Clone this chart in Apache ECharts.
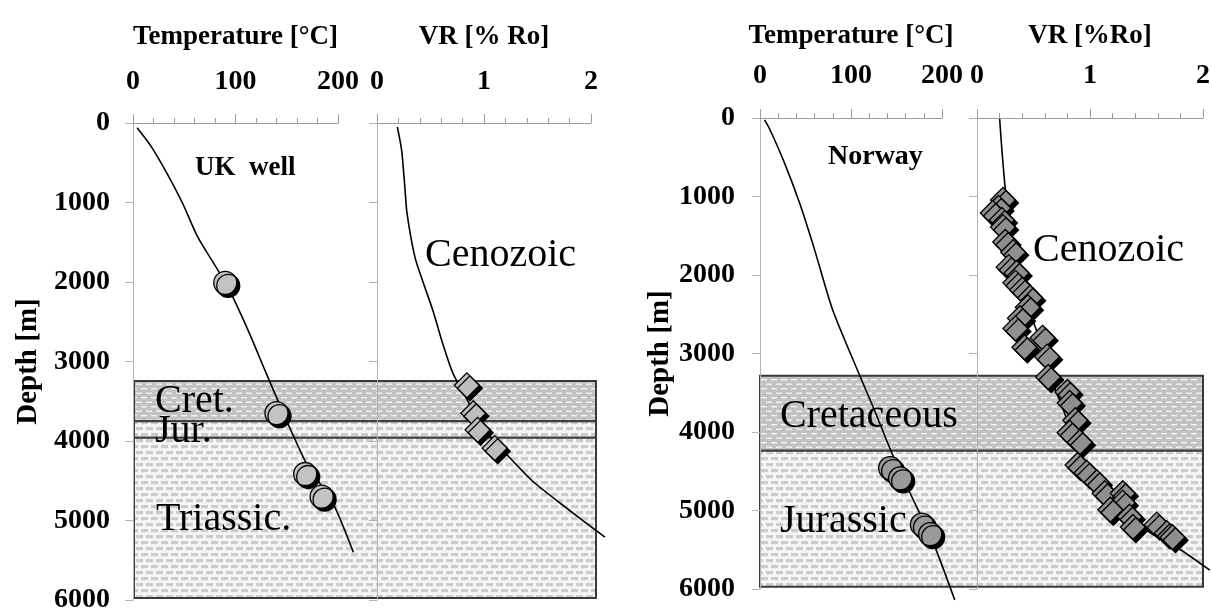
<!DOCTYPE html>
<html>
<head>
<meta charset="utf-8">
<script src="https://cdn.jsdelivr.net/npm/echarts@6/dist/echarts.min.js"></script>
<style>
  html, body { margin: 0; padding: 0; background: #fff; }
  #chart { width: 1211px; height: 616px; }
</style>
</head>
<body>
<div id="chart"></div>
<script>
// ---- well data: [value, depth in m] ----
const ukTempCurve = [[4,60],[18,300],[33,630],[48,1000],[63,1430],[78,1750],[92,2050],[112,2600],[130,3150],[145,3600],[157,3950],[170,4300],[195,4780],[215,5400]];
const ukTempObs = [[90,2010],[140,3650],[168,4415],[184,4700]];
const ukVrCurve = [[0.19,50],[0.23,340],[0.26,800],[0.28,1130],[0.355,1690],[0.43,2000],[0.52,2350],[0.62,2800],[0.71,3150],[0.83,3450],[0.93,3700],[1.08,3980],[1.24,4210],[1.45,4500],[1.71,4780],[2.13,5210]];
const ukVrObs = [[0.84,3300],[0.90,3650],[0.94,3860],[1.10,4090]];

const noTempCurve = [[5,25],[11,150],[27,575],[44,1100],[60,1680],[80,2450],[107,3210],[125,3700],[145,4270],[165,4780],[190,5400],[214,6140]];
const noTempObs = [[143,4460],[154,4590],[178,5180],[187,5300]];
const noVrCurve = [[0.2,0],[0.22,400],[0.25,900],[0.29,1400],[0.36,1900],[0.45,2400],[0.55,2800],[0.65,3300],[0.76,3700],[0.86,4100],[0.97,4500],[1.12,4800],[1.3,5050],[1.55,5300],[1.8,5500],[2.06,5760]];
const noVrObs = [[0.23,1045],[0.19,1146],[0.14,1210],[0.22,1300],[0.23,1390],[0.25,1580],[0.32,1710],[0.28,1900],[0.35,1975],[0.34,2100],[0.40,2190],[0.47,2290],[0.45,2410],[0.38,2550],[0.34,2680],[0.58,2800],[0.42,2920],[0.62,3040],[0.63,3300],[0.80,3490],[0.82,3630],[0.87,3850],[0.82,4010],[0.91,4130],[0.89,4420],[0.97,4520],[1.06,4640],[1.13,4780],[1.29,4780],[1.29,4900],[1.18,4990],[1.35,5080],[1.38,5210],[1.59,5180],[1.68,5290],[1.73,5340]];

// ---- stratigraphic units: [top, base, pattern index] (0 = shale, 1 = sandstone) ----
const ukUnits = [[3245,3750,0],[3750,3960,1],[3960,5975,1]];
const noUnits = [[3285,4240,0],[4240,5970,1]];

// ---- axis ranges [min, max, interval] ----
const tempRange = [0, 200, 100];
const vrRange = [0, 2, 1];
const depthRange = [0, 6000, 1000];
// curves run past the framed axes, so they get a wider plotting extent of the same scale
const overshoot = 1.2;

const SERIF = '"Liberation Serif", "Times New Roman", serif';

function makePattern(kind) {
  const c = document.createElement('canvas');
  const ctx = c.getContext('2d');
  if (kind === 0) {
    c.width = 10; c.height = 9;
    ctx.fillStyle = '#c2c2c2'; ctx.fillRect(0, 0, 10, 9);
    ctx.fillStyle = '#f4f4f4';
    ctx.fillRect(1, 1, 6, 1.4);
    ctx.fillRect(6, 5.5, 4, 1.4); ctx.fillRect(0, 5.5, 2, 1.4);
  } else {
    c.width = 10; c.height = 12;
    ctx.fillStyle = '#f5f5f5'; ctx.fillRect(0, 0, 10, 12);
    ctx.fillStyle = '#cbcbcb';
    ctx.fillRect(1, 1, 7, 3.2);
    ctx.fillRect(6, 7, 4, 3.2); ctx.fillRect(0, 7, 3, 3.2);
  }
  return { image: c, repeat: 'repeat' };
}
const patterns = [makePattern(0), makePattern(1)];

const axisGrey = '#9c9c9c';

// panels: [left, top, width, height]
const panels = [
  [133, 123, 205, 477],   // UK temperature
  [377, 123, 214, 477],   // UK vitrinite reflectance
  [760, 118, 182, 471],   // Norway temperature
  [977, 118, 226, 471]    // Norway vitrinite reflectance
];
const boxes = [
  [134, 123, 462, 477],
  [760, 118, 443, 471]
];
const panelRanges = [tempRange, vrRange, tempRange, vrRange];

function xAxisCfg(gridIndex, range, name, labelMargin, nameGap) {
  return {
    type: 'value', gridIndex, position: 'top',
    min: range[0], max: range[1], interval: range[2],
    name, nameLocation: 'middle', nameGap,
    nameTextStyle: { fontFamily: SERIF, fontWeight: 'bold', fontSize: 27, color: '#000' },
    axisLine: { show: true, onZero: false, lineStyle: { color: axisGrey, width: 1 } },
    axisTick: { show: true, length: 9, lineStyle: { color: axisGrey } },
    minorTick: { show: true, splitNumber: 5, length: 5, lineStyle: { color: axisGrey } },
    splitLine: { show: false }, minorSplitLine: { show: false },
    axisLabel: { show: true, margin: labelMargin, showMinLabel: true, showMaxLabel: true,
      fontFamily: SERIF, fontWeight: 'bold', fontSize: 28, color: '#000',
      formatter: v => String(v) },
    z: 5
  };
}
function yAxisCfg(gridIndex, withLabels, labelMargin, nameGap) {
  return {
    type: 'value', gridIndex, inverse: true,
    min: depthRange[0], max: depthRange[1], interval: depthRange[2],
    name: withLabels ? 'Depth [m]' : '', nameLocation: 'middle', nameGap, nameRotate: 90,
    nameTextStyle: { fontFamily: SERIF, fontWeight: 'bold', fontSize: 29, color: '#000' },
    axisLine: { show: true, onZero: false, lineStyle: { color: '#b4b4b4', width: 1 } },
    axisTick: { show: true, length: 8, lineStyle: { color: '#b4b4b4' } },
    splitLine: { show: false },
    axisLabel: { show: withLabels, margin: labelMargin, showMinLabel: true, showMaxLabel: true,
      fontFamily: SERIF, fontWeight: 'bold', fontSize: 28, color: '#000',
      formatter: v => String(v) },
    z: 5
  };
}

function gridOf(left, top, width, height) {
  return { left, top, width, height, containLabel: false, outerBoundsMode: 'none' };
}
const grids = [];
panels.forEach(p => grids.push(gridOf(p[0], p[1], p[2], p[3])));                              // 0-3 framed axes
boxes.forEach(b => grids.push(gridOf(b[0], b[1], b[2], b[3])));                                // 4-5 unit boxes
panels.forEach(p => grids.push(gridOf(p[0], p[1], p[2] * overshoot, p[3] * overshoot)));       // 6-9 data

const xAxes = [
  xAxisCfg(0, tempRange, 'Temperature [°C]', 27, 72),
  xAxisCfg(1, vrRange, 'VR [% Ro]', 27, 72),
  xAxisCfg(2, tempRange, 'Temperature [°C]', 28, 68),
  xAxisCfg(3, vrRange, 'VR [%Ro]', 28, 68),
  { type: 'value', gridIndex: 4, min: 0, max: 1, show: false },
  { type: 'value', gridIndex: 5, min: 0, max: 1, show: false }
];
const yAxes = [
  yAxisCfg(0, true, 23, 90),
  yAxisCfg(1, false, 0, 0),
  yAxisCfg(2, true, 25, 82),
  yAxisCfg(3, false, 0, 0),
  { type: 'value', gridIndex: 4, inverse: true, min: depthRange[0], max: depthRange[1], show: false },
  { type: 'value', gridIndex: 5, inverse: true, min: depthRange[0], max: depthRange[1], show: false }
];
panelRanges.forEach((r, i) => {
  xAxes.push({ type: 'value', gridIndex: 6 + i, min: r[0], max: r[1] * overshoot, show: false });
  yAxes.push({ type: 'value', gridIndex: 6 + i, inverse: true, min: depthRange[0], max: depthRange[1] * overshoot, show: false });
});

function unitSeries(axisIndex, units) {
  return {
    type: 'custom', xAxisIndex: axisIndex, yAxisIndex: axisIndex, silent: true, z: 1, clip: false,
    data: units,
    renderItem(params, api) {
      const p1 = api.coord([0, api.value(0)]);
      const p2 = api.coord([1, api.value(1)]);
      return {
        type: 'rect',
        shape: { x: p1[0], y: p1[1], width: p2[0] - p1[0], height: p2[1] - p1[1] },
        style: { fill: patterns[api.value(2)], stroke: '#3a3a3a', lineWidth: 2 }
      };
    }
  };
}
function curveSeries(panel, data) {
  return {
    type: 'line', xAxisIndex: 6 + panel, yAxisIndex: 6 + panel, data,
    showSymbol: false, smooth: 0.25, silent: true, z: 3,
    lineStyle: { color: '#000', width: 1.6 }
  };
}
function obsSeries(panel, data, symbol, size, fill) {
  return {
    type: 'scatter', xAxisIndex: 6 + panel, yAxisIndex: 6 + panel, data,
    symbol, symbolSize: size, silent: true, z: 4,
    itemStyle: { color: fill, borderColor: '#000', borderWidth: 1.3, opacity: 1,
      shadowColor: '#000', shadowBlur: 0, shadowOffsetX: 3, shadowOffsetY: 3 }
  };
}

function label(text, x, y, size, bold) {
  return { type: 'text', x, y, silent: true, z: 10,
    style: { text, fill: '#000', font: (bold ? 'bold ' : '') + size + 'px ' + SERIF, align: 'left', verticalAlign: 'middle' } };
}

const chart = echarts.init(document.getElementById('chart'), null, { renderer: 'canvas' });
chart.setOption({
  animation: false,
  backgroundColor: '#fff',
  grid: grids,
  xAxis: xAxes,
  yAxis: yAxes,
  series: [
    unitSeries(4, ukUnits),
    unitSeries(5, noUnits),
    curveSeries(0, ukTempCurve),
    curveSeries(1, ukVrCurve),
    curveSeries(2, noTempCurve),
    curveSeries(3, noVrCurve),
    obsSeries(0, ukTempObs, 'circle', 23, '#c2c2c2'),
    obsSeries(1, ukVrObs, 'diamond', 25, '#bdbdbd'),
    obsSeries(2, noTempObs, 'circle', 23, '#9a9a9a'),
    obsSeries(3, noVrObs, 'diamond', 25, '#8f8f8f')
  ],
  graphic: [
    label('UK  well', 195, 168, 27, true),
    label('Cenozoic', 425, 255, 40, false),
    label('Cret.', 155, 401, 40, false),
    label('Jur.', 155, 431, 40, false),
    label('Triassic.', 156, 519, 40, false),
    label('Norway', 828, 157, 28, true),
    label('Cenozoic', 1033, 250, 40, false),
    label('Cretaceous', 780, 416, 40, false),
    label('Jurassic', 780, 521, 40, false)
  ]
});
</script>
</body>
</html>
